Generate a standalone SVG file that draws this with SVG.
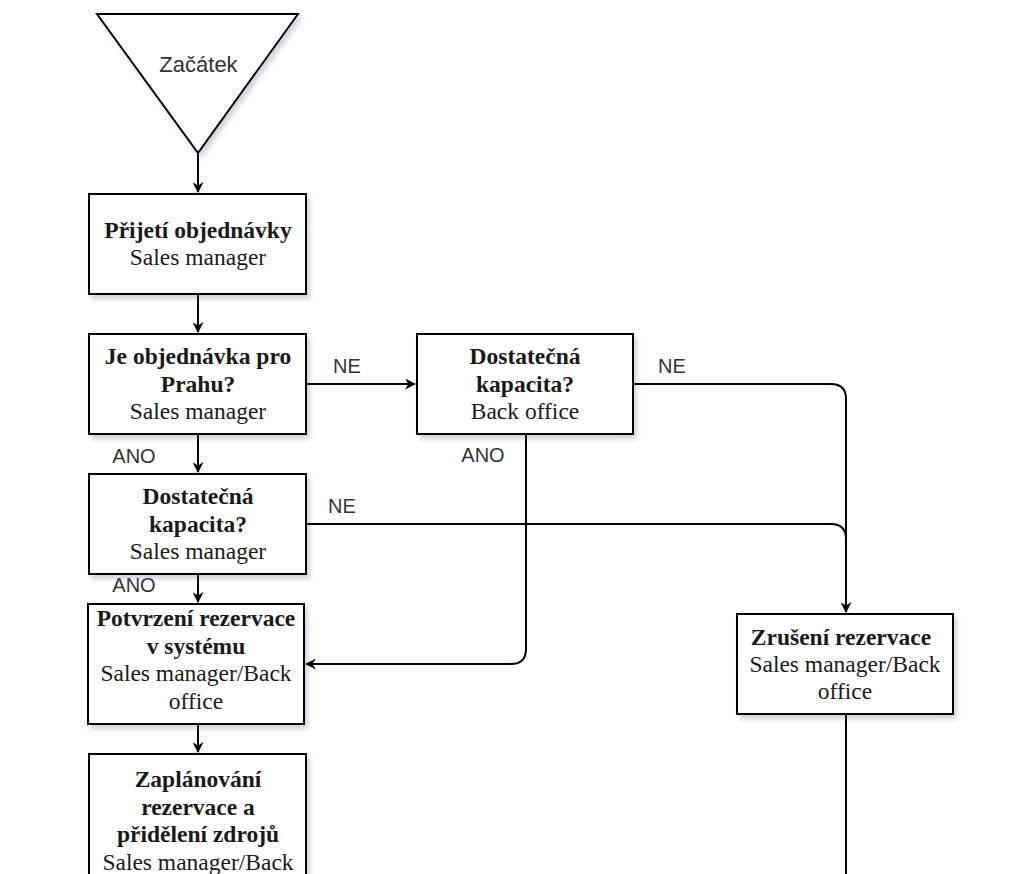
<svg xmlns="http://www.w3.org/2000/svg" width="1012" height="874" viewBox="0 0 1012 874">
<defs>
<filter id="sh" x="-10%" y="-10%" width="130%" height="130%">
<feDropShadow dx="3" dy="4" stdDeviation="2.5" flood-color="#6a6a8a" flood-opacity="0.3"/>
</filter>
<marker id="arr" viewBox="0 0 10 10" refX="9" refY="5" markerWidth="11" markerHeight="11" markerUnits="userSpaceOnUse" orient="auto">
<path d="M0,0 L10,5 L0,10 L3,5 Z" fill="#000"/>
</marker>
<style>
.box{fill:#fff;stroke:#000;stroke-width:2;filter:url(#sh)}
.t{font-family:"Liberation Serif","Times New Roman",serif;font-size:23.5px;text-anchor:middle;fill:#1a1a1a}
.b{font-weight:bold}
.lbl{font-family:"Liberation Sans",Arial,sans-serif;font-size:20px;text-anchor:middle;fill:#333}
.c{fill:none;stroke:#000;stroke-width:2}
</style>
</defs>
<rect width="1012" height="874" fill="#fff"/>

<g id="connectors">
<path class="c" d="M198,153 L198,192" marker-end="url(#arr)"/>
<path class="c" d="M198,294 L198,332" marker-end="url(#arr)"/>
<path class="c" d="M306,384 L415,384" marker-end="url(#arr)"/>
<path class="c" d="M198,434 L198,472" marker-end="url(#arr)"/>
<path class="c" d="M198,574 L198,602" marker-end="url(#arr)"/>
<path class="c" d="M198,724 L198,752" marker-end="url(#arr)"/>
<path class="c" d="M633,384 L831,384 Q846,384 846,399 L846,612" marker-end="url(#arr)"/>
<path class="c" d="M306,524 L831,524 Q846,524 846,539"/>
<path class="c" d="M526,434 L526,649 Q526,664 511,664 L306,664" marker-end="url(#arr)"/>
<path class="c" d="M846,714 L846,874"/>
<text class="lbl" x="347" y="373">NE</text>
<text class="lbl" x="672" y="373">NE</text>
<text class="lbl" x="342" y="513">NE</text>
<text class="lbl" x="134" y="463">ANO</text>
<text class="lbl" x="483" y="462">ANO</text>
<text class="lbl" x="134" y="592">ANO</text>
</g>

<g id="start">
<path class="box" d="M97,14 L298,14 L198,153 Z"/>
<text x="198.5" y="72" style="font-family:'Liberation Sans',Arial,sans-serif;font-size:22px;text-anchor:middle;fill:#333">Začátek</text>
</g>

<g id="prijeti">
<rect class="box" x="89" y="194" width="217" height="100"/>
<text class="t b" x="198" y="238">Přijetí objednávky</text>
<text class="t" x="198" y="265">Sales manager</text>
</g>

<g id="praha">
<rect class="box" x="89" y="334" width="217" height="100"/>
<text class="t b" x="198" y="364">Je objednávka pro</text>
<text class="t b" x="198" y="391.5">Prahu?</text>
<text class="t" x="198" y="419">Sales manager</text>
</g>

<g id="kapacita-bo">
<rect class="box" x="417" y="334" width="216" height="100"/>
<text class="t b" x="525" y="364">Dostatečná</text>
<text class="t b" x="525" y="391.5">kapacita?</text>
<text class="t" x="525" y="419">Back office</text>
</g>

<g id="kapacita-sm">
<rect class="box" x="89" y="474" width="217" height="100"/>
<text class="t b" x="198" y="504">Dostatečná</text>
<text class="t b" x="198" y="531.5">kapacita?</text>
<text class="t" x="198" y="559">Sales manager</text>
</g>

<g id="potvrzeni">
<rect class="box" x="88" y="604" width="216" height="120"/>
<text class="t b" x="196" y="626">Potvrzení rezervace</text>
<text class="t b" x="196" y="653.5">v systému</text>
<text class="t" x="196" y="681">Sales manager/Back</text>
<text class="t" x="196" y="709">office</text>
</g>

<g id="zaplanovani">
<rect class="box" x="89" y="754" width="217" height="162"/>
<text class="t b" x="198" y="787">Zaplánování</text>
<text class="t b" x="198" y="814.5">rezervace a</text>
<text class="t b" x="198" y="842">přidělení zdrojů</text>
<text class="t" x="198" y="869.5">Sales manager/Back</text>
</g>

<g id="zruseni">
<rect class="box" x="737" y="614" width="216" height="100"/>
<text class="t b" x="841" y="645">Zrušení rezervace</text>
<text class="t" x="845" y="672">Sales manager/Back</text>
<text class="t" x="845" y="699">office</text>
</g>
</svg>
